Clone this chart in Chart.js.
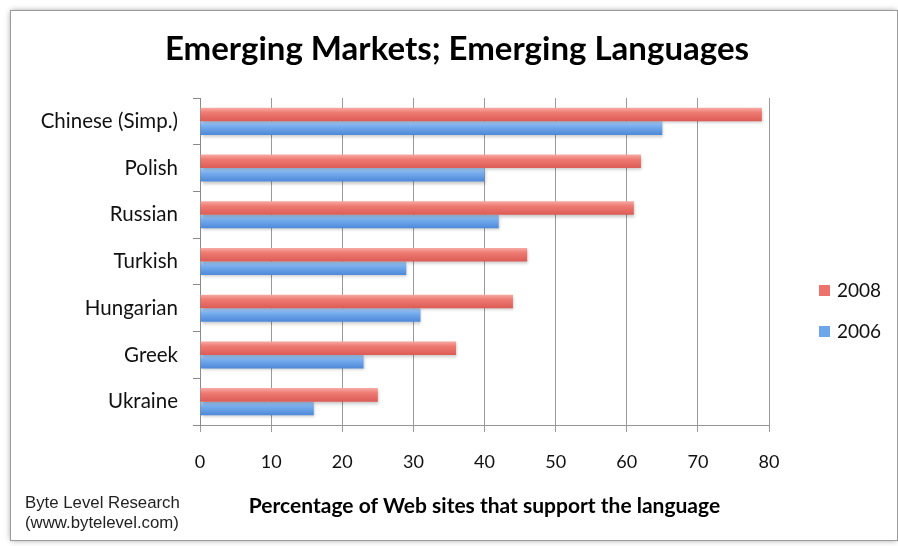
<!DOCTYPE html>
<html>
<head>
<meta charset="utf-8">
<script src="https://cdn.jsdelivr.net/npm/chart.js@4/dist/chart.umd.min.js"></script>
<style>
  html, body { margin: 0; padding: 0; background: #fff; }
  #wrap { width: 898px; height: 546px; }
</style>
</head>
<body>
<div id="wrap"><canvas id="c" width="898" height="546"></canvas></div>
<script>
// Languages, top to bottom
const languages = ['Chinese (Simp.)', 'Polish', 'Russian', 'Turkish', 'Hungarian', 'Greek', 'Ukraine'];
// Share of web sites supporting each language (%)
const share2008 = [79, 62, 61, 46, 44, 36, 25];
const share2006 = [65, 40, 42, 29, 31, 23, 16];
const seriesLabels = ['2008', '2006'];
const xTicks = [0, 10, 20, 30, 40, 50, 60, 70, 80];

const chartTitle = 'Emerging Markets; Emerging Languages';
const axisTitle = 'Percentage of Web sites that support the language';
const creditLines = ['Byte Level Research', '(www.bytelevel.com)'];

const BODY_FONT = 'Lato, "Open Sans", sans-serif';
const CAT_PCT = 0.58;

const palettes = [
  { top: '#f7aaa4', mid: '#ee7b73', bottom: '#dc5b55', swatch: '#ec726b' },
  { top: '#abd1f8', mid: '#78aeee', bottom: '#4d88d8', swatch: '#6ea6ea' }
];

// Vertical gradient per bar, light on top and darker at the bottom
function barFill(ctx) {
  const pal = palettes[ctx.datasetIndex] || palettes[0];
  const chart = ctx.chart;
  const y = chart.scales && chart.scales.y;
  if (ctx.type !== 'data' || !y || !chart.chartArea) return pal.mid;
  const center = y.getPixelForValue(ctx.dataIndex);
  const catH = Math.abs(y.getPixelForValue(1) - y.getPixelForValue(0));
  const thick = catH * CAT_PCT / 2;
  const top = ctx.datasetIndex === 0 ? center - thick : center;
  const g = chart.ctx.createLinearGradient(0, top, 0, top + thick);
  g.addColorStop(0, pal.top);
  g.addColorStop(0.35, pal.mid);
  g.addColorStop(1, pal.bottom);
  return g;
}

// White card with a soft grey edge behind the whole chart
const framePlugin = {
  id: 'frame',
  beforeDraw(chart) {
    const c = chart.ctx;
    c.save();
    c.fillStyle = '#ffffff';
    c.fillRect(0, 0, chart.width, chart.height);
    c.shadowColor = 'rgba(0,0,0,0.45)';
    c.shadowBlur = 6;
    c.fillRect(11, 11, 886, 529);
    c.shadowColor = 'transparent';
    c.strokeStyle = '#9c9c9c';
    c.lineWidth = 1;
    c.strokeRect(10.5, 10.5, 887, 530);
    c.restore();
  }
};

// Light drop shadow under the bars
const barShadowPlugin = {
  id: 'barShadow',
  beforeDatasetsDraw(chart) {
    const c = chart.ctx;
    c.save();
    c.shadowColor = 'rgba(0,0,0,0.22)';
    c.shadowBlur = 3;
    c.shadowOffsetX = 1;
    c.shadowOffsetY = 2;
  },
  afterDatasetsDraw(chart) {
    chart.ctx.restore();
  }
};

// Series key in the band reserved on the right-hand side
const sideLegendPlugin = {
  id: 'sideLegend',
  afterDraw(chart) {
    const c = chart.ctx;
    const x = chart.chartArea.right + 50;
    const y0 = 291;
    const gap = 41;
    c.save();
    c.font = '19px ' + BODY_FONT;
    c.textBaseline = 'middle';
    c.textAlign = 'left';
    chart.data.datasets.forEach((ds, i) => {
      const y = y0 + i * gap;
      c.fillStyle = palettes[i].swatch;
      c.fillRect(x, y - 6, 11, 11);
      c.fillStyle = '#111';
      c.fillText(ds.label, x + 18, y);
    });
    c.restore();
  }
};

// Source credit in the lower-left corner
const creditPlugin = {
  id: 'credit',
  afterDraw(chart) {
    const c = chart.ctx;
    c.save();
    c.font = '16.8px "Liberation Sans", Arial, sans-serif';
    c.fillStyle = '#222';
    c.textBaseline = 'middle';
    c.textAlign = 'left';
    creditLines.forEach((t, i) => c.fillText(t, 25, 503 + i * 20));
    c.restore();
  }
};

new Chart(document.getElementById('c'), {
  type: 'bar',
  data: {
    labels: languages,
    datasets: [
      { label: seriesLabels[0], data: share2008, backgroundColor: barFill },
      { label: seriesLabels[1], data: share2006, backgroundColor: barFill }
    ]
  },
  options: {
    indexAxis: 'y',
    responsive: false,
    animation: false,
    devicePixelRatio: 1,
    categoryPercentage: CAT_PCT,
    barPercentage: 1.0,
    layout: { padding: { left: 16, right: 0, top: 0, bottom: 0 } },
    plugins: {
      legend: { display: false },
      tooltip: { enabled: false },
      title: {
        display: true,
        text: chartTitle,
        color: '#000',
        font: { family: BODY_FONT, size: 33, weight: 'bold', lineHeight: 1.2 },
        padding: { top: 30, bottom: 28.4 }
      }
    },
    scales: {
      x: {
        type: 'linear',
        min: 0,
        max: 80,
        afterBuildTicks(scale) { scale.ticks = xTicks.map(v => ({ value: v })); },
        afterFit(scale) { scale.height = 121; },
        grid: { color: '#9a9a9a', lineWidth: 1, tickLength: 7, drawTicks: true },
        border: { color: '#959595', width: 1 },
        ticks: {
          color: '#111',
          padding: 19,
          font: { family: BODY_FONT, size: 18 }
        },
        title: {
          display: true,
          text: axisTitle,
          color: '#000',
          font: { family: BODY_FONT, size: 21, weight: 'bold', lineHeight: 1.2 },
          padding: { top: 0, bottom: 27.4 }
        }
      },
      y: {
        type: 'category',
        afterFit(scale) { scale.width = 184; },
        grid: { drawOnChartArea: false, tickLength: 7, color: '#8a8a8a', offset: true },
        border: { color: '#8a8a8a', width: 1 },
        ticks: {
          color: '#111',
          padding: 15,
          font: { family: BODY_FONT, size: 20.5 }
        }
      },
      // Empty right-hand band that leaves room for the series key
      keyBand: {
        type: 'category',
        position: 'right',
        axis: 'y',
        afterFit(scale) { scale.width = 129; },
        grid: { display: false },
        border: { display: false },
        ticks: { display: false }
      }
    }
  },
  plugins: [framePlugin, barShadowPlugin, sideLegendPlugin, creditPlugin]
});
</script>
</body>
</html>
